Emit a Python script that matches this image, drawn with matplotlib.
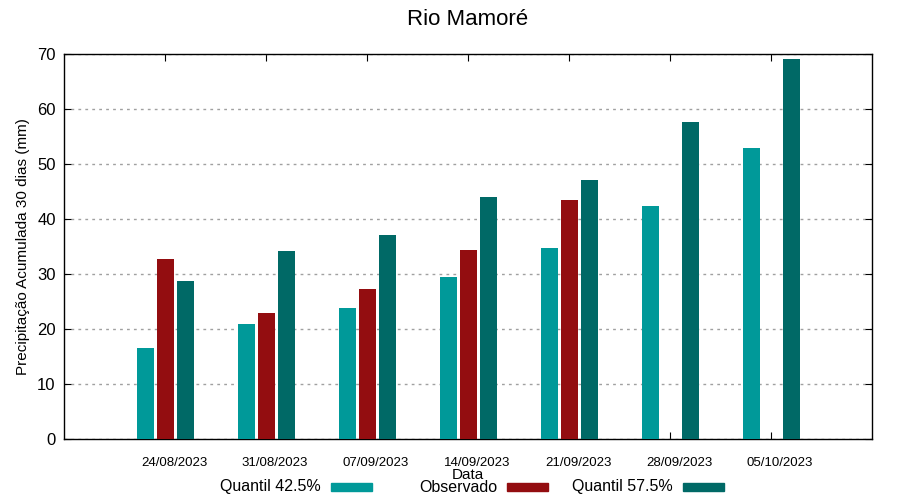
import matplotlib
matplotlib.use("Agg")
import matplotlib.pyplot as plt
import matplotlib.transforms as mtransforms
from matplotlib.patches import Rectangle
import numpy as np

plt.rcParams['font.family'] = ['Liberation Sans', 'DejaVu Sans']

dates = ["24/08/2023", "31/08/2023", "07/09/2023", "14/09/2023",
         "21/09/2023", "28/09/2023", "05/10/2023"]
q425 = [16.5, 20.9, 23.8, 29.5, 34.7, 42.4, 52.9]
observado = [32.7, 22.9, 27.3, 34.4, 43.5, np.nan, np.nan]
q575 = [28.7, 34.2, 37.1, 44.0, 47.1, 57.6, 69.1]
series_labels = ["Quantil 42.5%", "Observado", "Quantil 57.5%"]

c1, c2, c3 = '#009999', '#930d10', '#006966'
colors = [c1, c2, c3]

W, H = 900, 500
fig = plt.figure(figsize=(9, 5), dpi=100)
ax = fig.add_axes([64/W, 61/H, 808/W, 385/H])

x = np.arange(len(dates))
w = 0.165
ax.bar(x - 0.195, q425, w, color=c1, zorder=3)
ax.bar(x + 0.005, observado, w, color=c2, zorder=3)
ax.bar(x + 0.205, q575, w, color=c3, zorder=3)

ax.set_xlim(-1, 7)
ax.set_ylim(0, 70)
ax.set_yticks(range(0, 71, 10))
ax.set_xticks(x)
ax.set_xticklabels(dates, fontsize=9.5)
ax.tick_params(axis='x', direction='in', top=True, length=5, pad=13)
ax.tick_params(axis='y', direction='in', right=True, length=5, labelsize=12, pad=6)
offset = mtransforms.ScaledTranslation(9/100, 0, fig.dpi_scale_trans)
for lab in ax.get_xticklabels():
    lab.set_transform(lab.get_transform() + offset)
ax.yaxis.grid(True, linestyle=(0, (2, 3)), color='#a0a0a0', linewidth=1, zorder=0)
for s in ax.spines.values():
    s.set_linewidth(1)

ax.set_title("Rio Mamoré", fontsize=16, pad=21)
ax.set_ylabel("Precipitação Acumulada 30 dias (mm)", fontsize=11, labelpad=5)
ax.set_xlabel("Data", fontsize=11, labelpad=-1)

# gnuplot-style legend: fixed-width columns, text right-aligned before swatch
text_right = [321, 497, 673]
y_leg = 487
for i, (lab, col) in enumerate(zip(series_labels, colors)):
    fig.text(text_right[i] / W, 1 - y_leg / H, lab, ha='right', va='center',
             fontsize=11.5)
    fig.patches.append(Rectangle(((text_right[i] + 10) / W, 1 - (y_leg + 4) / H),
                                 41 / W, 8 / H, transform=fig.transFigure,
                                 color=col, figure=fig))

fig.savefig("out.png", dpi=100)
